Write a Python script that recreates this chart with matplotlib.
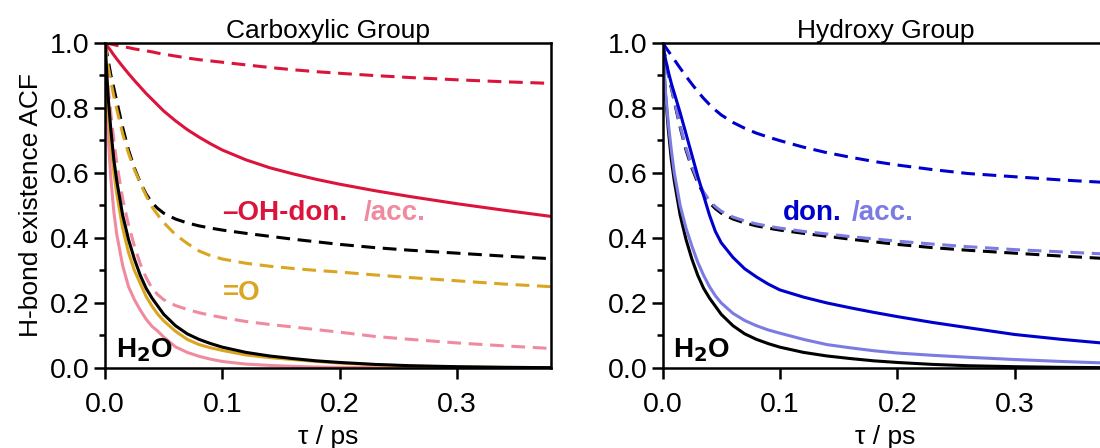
import matplotlib.pyplot as plt

plt.rcParams['font.family'] = ['Liberation Sans', 'DejaVu Sans']

# time grid (ps) shared by all curves
tau = [0, 0.0025, 0.005, 0.0075, 0.01, 0.015, 0.02, 0.025, 0.03, 0.035,
       0.04, 0.045, 0.05, 0.06, 0.07, 0.08, 0.09, 0.1, 0.12, 0.14,
       0.16, 0.18, 0.2, 0.23, 0.26, 0.3, 0.34, 0.38]

# H2O reference (both panels)
h2o_solid = [1.0, 0.84, 0.73, 0.64, 0.575, 0.47, 0.395, 0.335, 0.285, 0.245,
             0.215, 0.19, 0.165, 0.13, 0.105, 0.088, 0.075, 0.064, 0.048, 0.037,
             0.029, 0.022, 0.017, 0.011, 0.007, 0.004, 0.002, 0.001]
h2o_dash = [1.0, 0.95, 0.9, 0.86, 0.82, 0.74, 0.67, 0.615, 0.57, 0.535,
            0.508, 0.49, 0.476, 0.458, 0.446, 0.437, 0.43, 0.424, 0.414, 0.405,
            0.396, 0.388, 0.38, 0.37, 0.362, 0.353, 0.344, 0.336]

# Carboxylic group
oh_don_solid = [1.0, 0.987, 0.975, 0.962, 0.95, 0.927, 0.905, 0.884, 0.864, 0.844,
                0.826, 0.808, 0.79, 0.76, 0.733, 0.71, 0.689, 0.67, 0.64, 0.616,
                0.597, 0.58, 0.565, 0.545, 0.527, 0.505, 0.485, 0.466]
oh_don_dash = [1.0, 0.998, 0.996, 0.994, 0.992, 0.988, 0.985, 0.981, 0.978, 0.975,
               0.972, 0.968, 0.965, 0.959, 0.953, 0.948, 0.944, 0.94, 0.932, 0.924,
               0.917, 0.911, 0.906, 0.899, 0.893, 0.886, 0.88, 0.875]
oh_acc_solid = [1.0, 0.72, 0.58, 0.48, 0.41, 0.315, 0.25, 0.21, 0.178, 0.15,
                0.128, 0.113, 0.095, 0.065, 0.048, 0.036, 0.027, 0.02, 0.012, 0.008,
                0.005, 0.003, 0.002, 0.001, 0.0, 0.0, 0.0, 0.0]
oh_acc_dash = [1.0, 0.87, 0.78, 0.7, 0.63, 0.52, 0.44, 0.375, 0.32, 0.278,
               0.245, 0.225, 0.21, 0.192, 0.18, 0.17, 0.162, 0.155, 0.143, 0.134,
               0.126, 0.118, 0.11, 0.097, 0.088, 0.077, 0.068, 0.06]
co_solid = [1.0, 0.8, 0.69, 0.6, 0.535, 0.43, 0.355, 0.3, 0.26, 0.22,
            0.19, 0.165, 0.145, 0.113, 0.088, 0.072, 0.062, 0.054, 0.04, 0.032,
            0.026, 0.02, 0.015, 0.01, 0.006, 0.003, 0.002, 0.001]
co_dash = [1.0, 0.93, 0.88, 0.835, 0.795, 0.72, 0.66, 0.61, 0.568, 0.53,
           0.495, 0.47, 0.447, 0.41, 0.383, 0.36, 0.345, 0.335, 0.322, 0.313,
           0.306, 0.3, 0.295, 0.286, 0.278, 0.268, 0.258, 0.25]

# Hydroxy group
don_solid = [1.0, 0.95, 0.91, 0.875, 0.845, 0.785, 0.72, 0.655, 0.59, 0.53,
             0.47, 0.42, 0.385, 0.34, 0.305, 0.28, 0.258, 0.24, 0.218, 0.2,
             0.185, 0.171, 0.158, 0.14, 0.124, 0.103, 0.088, 0.075]
don_dash = [1.0, 0.987, 0.974, 0.961, 0.948, 0.922, 0.897, 0.873, 0.85, 0.829,
            0.81, 0.793, 0.778, 0.755, 0.737, 0.722, 0.71, 0.699, 0.679, 0.662,
            0.648, 0.635, 0.624, 0.61, 0.598, 0.588, 0.578, 0.57]
acc_solid = [1.0, 0.85, 0.75, 0.67, 0.6, 0.5, 0.43, 0.375, 0.325, 0.285,
             0.25, 0.222, 0.2, 0.168, 0.146, 0.13, 0.117, 0.107, 0.088, 0.072,
             0.062, 0.053, 0.046, 0.039, 0.033, 0.026, 0.02, 0.015]
acc_dash = [1.0, 0.95, 0.9, 0.862, 0.823, 0.745, 0.676, 0.621, 0.576, 0.541,
            0.514, 0.496, 0.482, 0.464, 0.452, 0.443, 0.436, 0.43, 0.42, 0.412,
            0.404, 0.397, 0.39, 0.381, 0.373, 0.364, 0.357, 0.35]

CRIMSON = '#DC143C'
PINK = '#F08A9E'
GOLD = '#DAA520'
BLUE = '#0000CD'
LBLUE = '#7B7BE3'

LW = 2.2
DASH = (0, (4.5, 2.5))

fig = plt.figure(figsize=(11, 4.48), dpi=100)
ax1 = fig.add_axes([0.0955, 0.1786, 0.4055, 0.726])
ax2 = fig.add_axes([0.6023, 0.1786, 0.4055, 0.726])

# left panel
ax1.plot(tau, oh_don_dash, color=CRIMSON, lw=LW, ls=DASH)
ax1.plot(tau, oh_don_solid, color=CRIMSON, lw=LW)
ax1.plot(tau, h2o_dash, color='black', lw=LW, ls=DASH)
ax1.plot(tau, co_dash, color=GOLD, lw=LW, ls=DASH)
ax1.plot(tau, oh_acc_dash, color=PINK, lw=LW, ls=DASH)
ax1.plot(tau, oh_acc_solid, color=PINK, lw=LW)
ax1.plot(tau, co_solid, color=GOLD, lw=LW)
ax1.plot(tau, h2o_solid, color='black', lw=LW)

# right panel
ax2.plot(tau, don_dash, color=BLUE, lw=LW, ls=DASH)
ax2.plot(tau, h2o_dash, color='black', lw=LW, ls=DASH)
ax2.plot(tau, acc_dash, color=LBLUE, lw=LW, ls=DASH)
ax2.plot(tau, h2o_solid, color='black', lw=LW)
ax2.plot(tau, acc_solid, color=LBLUE, lw=LW)
ax2.plot(tau, don_solid, color=BLUE, lw=LW)

fs = 19
afs = 20
for ax, title in [(ax1, 'Carboxylic Group'), (ax2, 'Hydroxy Group')]:
    ax.set_xlim(0, 0.38)
    ax.set_ylim(0, 1.0)
    ax.set_xticks([0.0, 0.1, 0.2, 0.3])
    ax.set_xticklabels(['0.0', '0.1', '0.2', '0.3'])
    ax.set_yticks([0.0, 0.2, 0.4, 0.6, 0.8, 1.0])
    ax.set_yticklabels(['0.0', '0.2', '0.4', '0.6', '0.8', '1.0'])
    ax.set_yticks([0.1, 0.3, 0.5, 0.7, 0.9], minor=True)
    ax.tick_params(which='major', direction='out', length=8, width=1.8,
                   labelsize=20.5, pad=3)
    ax.tick_params(axis='x', which='major', pad=9)
    ax.tick_params(which='minor', direction='out', length=4.5, width=1.8)
    for sp in ax.spines.values():
        sp.set_linewidth(1.8)
    ax.set_title(title, fontsize=fs, pad=2)
    ax.set_xlabel('τ / ps', fontsize=fs, labelpad=5)
    ax.text(0.009, 0.055, 'H$_\\mathbf{2}$O', fontsize=afs, fontweight='bold',
            va='center', ha='left')

ax1.set_ylabel('H-bond existence ACF', fontsize=fs, labelpad=5)

ax1.text(0.1, 0.476, '–OH-don.', color=CRIMSON, fontsize=afs, fontweight='bold',
         va='center', ha='left')
ax1.text(0.2206, 0.476, '/acc.', color=PINK, fontsize=afs, fontweight='bold',
         va='center', ha='left')
ax1.text(0.1, 0.23, '=O', color=GOLD, fontsize=afs, fontweight='bold',
         va='center', ha='left')

ax2.text(0.1026, 0.478, 'don.', color=BLUE, fontsize=afs, fontweight='bold',
         va='center', ha='left')
ax2.text(0.161, 0.478, '/acc.', color=LBLUE, fontsize=afs, fontweight='bold',
         va='center', ha='left')

plt.savefig('out.png', dpi=100)
